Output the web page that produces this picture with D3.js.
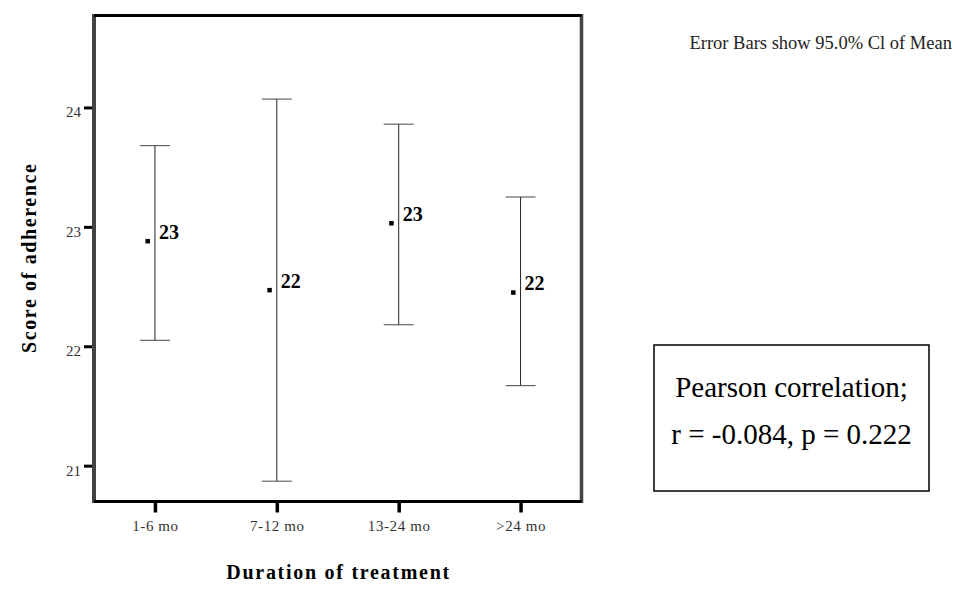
<!DOCTYPE html>
<html>
<head>
<meta charset="utf-8">
<script src="https://cdn.jsdelivr.net/npm/d3@7"></script>
<style>
  body { margin: 0; background: #fff; }
  text { font-family: "Liberation Serif", "Times New Roman", serif; }
</style>
</head>
<body>
<svg id="chart"></svg>
<script>
var categories = ["1-6 mo", "7-12 mo", "13-24 mo", ">24 mo"],
    means      = [22.88, 22.47, 23.03, 22.45],
    lower      = [22.05, 20.87, 22.18, 21.67],
    upper      = [23.68, 24.07, 23.86, 23.25],
    meanLabels = ["23", "22", "23", "22"],
    yTicks     = [21, 22, 23, 24];

var width = 956, height = 589,
    frame = {left: 94, right: 581.5, top: 15.5, bottom: 501.5};

var data = categories.map(function(c, i) {
  return {cat: c, mean: means[i], lo: lower[i], hi: upper[i], label: meanLabels[i]};
});

var xScale = d3.scalePoint()
      .domain(categories)
      .range([frame.left, frame.right])
      .padding(0.5),
    yScale = d3.scaleLinear()
      .domain([20.7, 24.77])
      .range([frame.bottom, frame.top]);

var svg = d3.select("#chart")
    .attr("width", width)
    .attr("height", height);

// y axis
var yAxis = svg.append("g")
    .attr("class", "axis axis-y")
    .attr("transform", "translate(" + frame.left + ",0)")
    .call(d3.axisLeft(yScale).tickValues(yTicks).tickSize(10).tickPadding(3).tickFormat(d3.format("d")));
yAxis.select(".domain").remove();
yAxis.selectAll("line").attr("stroke", "#000").attr("stroke-width", 3);
yAxis.selectAll("text")
    .attr("dy", 9.5)
    .attr("fill", "#333")
    .style("font-size", "15px");

// x axis
var xAxis = svg.append("g")
    .attr("class", "axis axis-x")
    .attr("transform", "translate(0," + frame.bottom + ")")
    .call(d3.axisBottom(xScale).tickSize(11).tickPadding(8));
xAxis.select(".domain").remove();
xAxis.selectAll("line").attr("stroke", "#000").attr("stroke-width", 3.5);
xAxis.selectAll("text")
    .attr("fill", "#333")
    .attr("dy", "0.71em")
    .style("font-size", "15px")
    .style("letter-spacing", "0.6px");

// frame: gray sides, black top and bottom
svg.append("line")
    .attr("x1", frame.left).attr("x2", frame.left)
    .attr("y1", frame.top - 1.5).attr("y2", frame.bottom + 1.5)
    .attr("stroke", "#444").attr("stroke-width", 4);
svg.append("line")
    .attr("x1", frame.right).attr("x2", frame.right)
    .attr("y1", frame.top - 1.5).attr("y2", frame.bottom + 1.5)
    .attr("stroke", "#444").attr("stroke-width", 3.5);
svg.append("line")
    .attr("x1", frame.left).attr("x2", frame.right)
    .attr("y1", frame.top).attr("y2", frame.top)
    .attr("stroke", "#000").attr("stroke-width", 3);
svg.append("line")
    .attr("x1", frame.left).attr("x2", frame.right)
    .attr("y1", frame.bottom).attr("y2", frame.bottom)
    .attr("stroke", "#000").attr("stroke-width", 3);

// error bars
var bars = svg.append("g").selectAll("g")
    .data(data).enter()
    .append("g");

bars.append("line")
    .attr("x1", function(d) { return xScale(d.cat); })
    .attr("x2", function(d) { return xScale(d.cat); })
    .attr("y1", function(d) { return yScale(d.hi); })
    .attr("y2", function(d) { return yScale(d.lo); })
    .attr("stroke", "#222").attr("stroke-width", 1);

bars.selectAll(".cap")
    .data(function(d) { return [{cat: d.cat, v: d.hi}, {cat: d.cat, v: d.lo}]; })
    .enter().append("line")
    .attr("class", "cap")
    .attr("x1", function(d) { return xScale(d.cat) - 15; })
    .attr("x2", function(d) { return xScale(d.cat) + 15; })
    .attr("y1", function(d) { return yScale(d.v); })
    .attr("y2", function(d) { return yScale(d.v); })
    .attr("stroke", "#444").attr("stroke-width", 1);

bars.append("rect")
    .attr("x", function(d) { return xScale(d.cat) - 9.5; })
    .attr("y", function(d) { return yScale(d.mean) - 2.25; })
    .attr("width", 4.5)
    .attr("height", 4.5)
    .attr("fill", "#000");

bars.append("text")
    .attr("x", function(d) { return xScale(d.cat) + 4; })
    .attr("y", function(d) { return yScale(d.mean) - 2.4; })
    .style("font-size", "20px")
    .style("font-weight", "bold")
    .text(function(d) { return d.label; });

// axis titles
svg.append("text")
    .attr("x", (frame.left + frame.right) / 2)
    .attr("y", 579)
    .attr("text-anchor", "middle")
    .attr("textLength", 223)
    .attr("lengthAdjust", "spacing")
    .style("font-size", "20px")
    .style("font-weight", "bold")
    .text("Duration of treatment");

svg.append("text")
    .attr("transform", "translate(36," + ((frame.top + frame.bottom) / 2) + ") rotate(-90)")
    .attr("text-anchor", "middle")
    .attr("textLength", 189)
    .attr("lengthAdjust", "spacing")
    .style("font-size", "20px")
    .style("font-weight", "bold")
    .text("Score of adherence");

// caption
svg.append("text")
    .attr("x", 952)
    .attr("y", 49)
    .attr("text-anchor", "end")
    .attr("fill", "#222")
    .style("font-size", "18.5px")
    .text("Error Bars show 95.0% Cl of Mean");

// correlation box
svg.append("rect")
    .attr("x", 654).attr("y", 345)
    .attr("width", 275).attr("height", 146)
    .attr("fill", "#fff")
    .attr("stroke", "#000").attr("stroke-width", 1.5);

svg.append("text")
    .attr("x", 791.5).attr("y", 397)
    .attr("text-anchor", "middle")
    .style("font-size", "29px")
    .text("Pearson correlation;");

svg.append("text")
    .attr("x", 791.5).attr("y", 444)
    .attr("text-anchor", "middle")
    .style("font-size", "29px")
    .text("r = -0.084, p = 0.222");
</script>
</body>
</html>
